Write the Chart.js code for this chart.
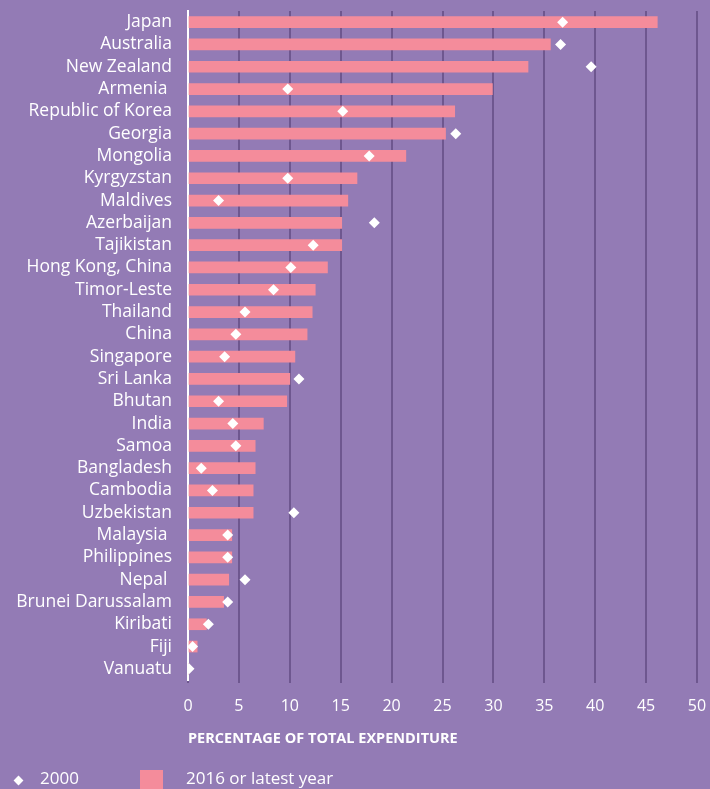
<!DOCTYPE html>
<html>
<head>
<meta charset="utf-8">
<script src="https://cdn.jsdelivr.net/npm/chart.js@4/dist/chart.umd.min.js"></script>
<style>
    body { margin: 0; background: #937bb5; }
    #wrap { position: relative; width: 710px; height: 789px; overflow: hidden; }
    #legend { position: absolute; left: 0; top: 766px; width: 710px; height: 23px;
              font-family: "Open Sans", sans-serif; font-size: 17px; color: #ffffff; }
    .diamond { position: absolute; left: 15px; top: 11px; width: 7px; height: 7px;
               background: #ffffff; transform: rotate(45deg); }
    .swatch { position: absolute; left: 140px; top: 4px; width: 23px; height: 23px; background: #f48c9b; }
    .lbl { position: absolute; top: 1px; line-height: 22px; }
</style>
</head>
<body>
<div id="wrap">
    <canvas id="ExpenditureGraph" width="710" height="789"></canvas>
    <div id="legend">
        <div class="diamond"></div><div class="lbl" style="left:40px">2000</div>
        <div class="swatch"></div><div class="lbl" style="left:186px">2016 or latest year</div>
    </div>
</div>
<script>
var countries = ["Japan", "Australia", "New Zealand", "Armenia ", "Republic of Korea", "Georgia",
    "Mongolia", "Kyrgyzstan", "Maldives", "Azerbaijan", "Tajikistan", "Hong Kong, China",
    "Timor-Leste", "Thailand", "China", "Singapore", "Sri Lanka", "Bhutan", "India", "Samoa",
    "Bangladesh", "Cambodia", "Uzbekistan", "Malaysia ", "Philippines", "Nepal ",
    "Brunei Darussalam", "Kiribati", "Fiji", "Vanuatu"];
var latest = [46.1, 35.6, 33.4, 29.9, 26.2, 25.3, 21.4, 16.6, 15.7, 15.1, 15.1, 13.7,
    12.5, 12.2, 11.7, 10.5, 10.0, 9.7, 7.4, 6.6, 6.6, 6.4, 6.4, 4.3, 4.3, 4.0, 3.5, 1.8, 0.9, 0];
var year2000 = [36.8, 36.6, 39.6, 9.8, 15.2, 26.3, 17.8, 9.8, 3.0, 18.3, 12.3, 10.1,
    8.4, 5.6, 4.7, 3.6, 10.9, 3.0, 4.4, 4.7, 1.3, 2.4, 10.4, 3.9, 3.9, 5.6, 3.9, 2.0, 0.45, 0.1];
var xTicks = [0, 5, 10, 15, 20, 25, 30, 35, 40, 45, 50];

var fontFamily = "'Open Sans', sans-serif";

var expenditureContext = document.getElementById("ExpenditureGraph").getContext("2d");
var expenditureChart = new Chart(expenditureContext, {
    type: "bar",
    data: {
        labels: countries,
        datasets: [{
            type: "line",
            label: "2000",
            data: year2000,
            indexAxis: "y",
            showLine: false,
            pointStyle: "rectRot",
            pointRadius: 5.5,
            pointBackgroundColor: "#ffffff",
            pointBorderWidth: 0,
            order: 0
        },
        {
            label: "2016 or latest year",
            data: latest,
            backgroundColor: "#f48c9b",
            barThickness: 11,
            order: 1
        }]
    },
    options: {
        indexAxis: "y",
        responsive: false,
        animation: false,
        layout: { padding: { top: 11, right: 13, bottom: 32, left: 0 } },
        plugins: { legend: { display: false }, tooltip: { enabled: false } },
        scales: {
            x: {
                min: 0,
                max: 50,
                afterBuildTicks: function (scale) {
                    scale.ticks = xTicks.map(function (v) { return { value: v }; });
                },
                afterFit: function (scale) {
                    scale.height = 77;
                    scale.paddingLeft = 0;
                    scale.paddingRight = 0;
                },
                grid: { color: "#6e578f", lineWidth: 2, drawTicks: true, tickLength: 3 },
                border: { display: false },
                ticks: { color: "#ffffff", font: { family: fontFamily, size: 16 }, padding: 14 },
                title: {
                    display: true,
                    align: "start",
                    text: "PERCENTAGE OF TOTAL EXPENDITURE",
                    color: "#ffffff",
                    font: { family: fontFamily, size: 14.5, weight: "bold" },
                    padding: { top: 0, bottom: 9 }
                }
            },
            y: {
                afterFit: function (scale) {
                    scale.width = 188;
                    scale.paddingTop = 0;
                    scale.paddingBottom = 0;
                },
                grid: { display: false, drawTicks: false },
                border: { display: true, color: "#ffffff", width: 2 },
                ticks: { color: "#ffffff", font: { family: fontFamily, size: 17.5 }, padding: 16, autoSkip: false }
            }
        }
    }
});
</script>
</body>
</html>
